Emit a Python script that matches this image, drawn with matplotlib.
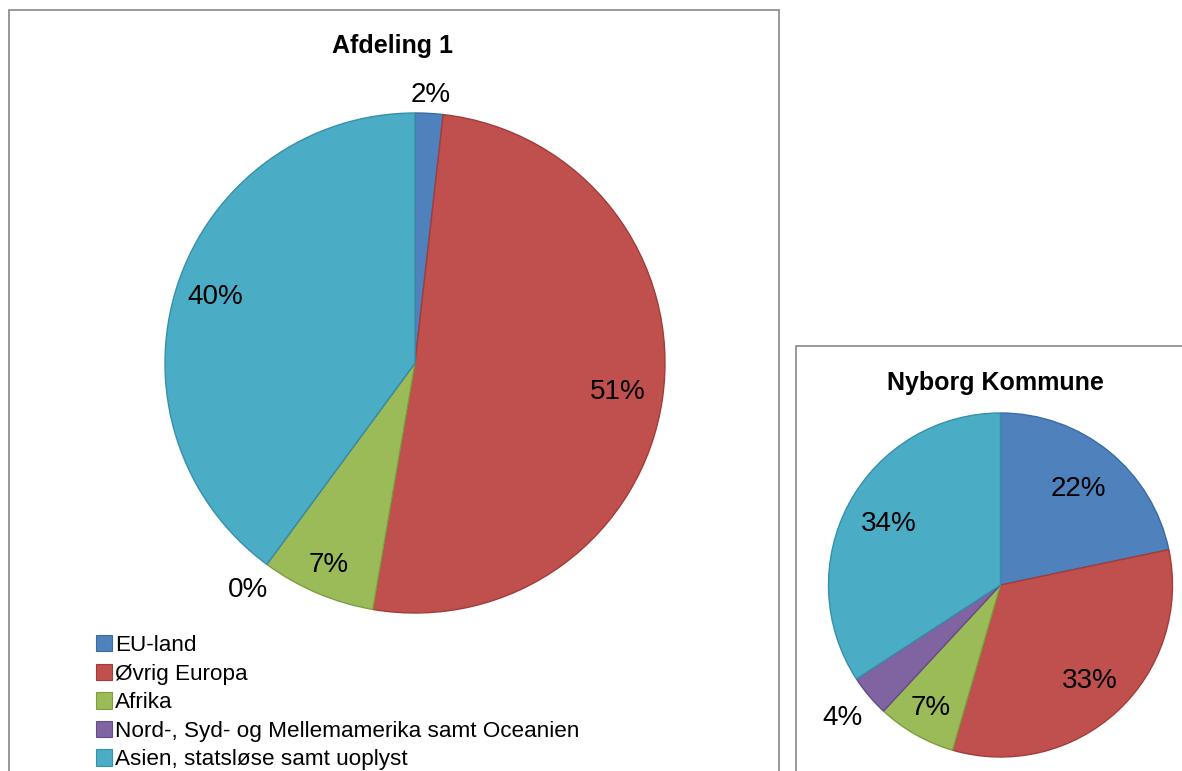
import numpy as np
import matplotlib.pyplot as plt
from matplotlib.patches import Rectangle, Patch

plt.rcParams['font.family'] = ['Liberation Sans', 'DejaVu Sans']

categories = ['EU-land', 'Øvrig Europa', 'Afrika',
              'Nord-, Syd- og Mellemamerika samt Oceanien',
              'Asien, statsløse samt uoplyst']
afdeling = [1.8, 50.9, 7.4, 0.0, 39.9]
nyborg = [21.7, 32.8, 7.4, 3.9, 34.2]

colors = ['#4F81BD', '#C0504D', '#9BBB59', '#8064A2', '#4BACC6']
edges = ['#3A6BA5', '#A23C39', '#7E9C41', '#654B87', '#3590AA']

W, H = 1182, 771
fig = plt.figure(figsize=(W / 100, H / 100), dpi=100)

# chart frames (both run off the bottom/right of the image)
fig.patches.append(Rectangle((9.5 / W, -0.1), (779 - 9.5) / W, 0.1 + (H - 10) / H,
                             transform=fig.transFigure, fill=False,
                             edgecolor='#888888', lw=1.2))
fig.patches.append(Rectangle((796 / W, -0.1), 0.5, 0.1 + (H - 346) / H,
                             transform=fig.transFigure, fill=False,
                             edgecolor='#888888', lw=1.2))


def draw_pie(ax, vals, rads):
    wedges, _ = ax.pie(vals, colors=colors, startangle=90, counterclock=False,
                       wedgeprops=dict(linewidth=1.0))
    for w, e in zip(wedges, edges):
        w.set_edgecolor(e)
    for w, v, r in zip(wedges, vals, rads):
        a = np.deg2rad((w.theta1 + w.theta2) / 2)
        ax.text(r * np.cos(a), r * np.sin(a), f'{v:.0f}%', fontsize=20,
                ha='center', va='center')
    ax.set_xlim(-1, 1)
    ax.set_ylim(-1, 1)


# Afdeling 1
cx, cy, r = 415, 363, 250
ax1 = fig.add_axes([(cx - r) / W, (H - cy - r) / H, 2 * r / W, 2 * r / H])
draw_pie(ax1, afdeling, [1.075, 0.82, 0.88, 1.13, 0.84])
fig.text(393 / W, (H - 46) / H, 'Afdeling 1', fontsize=18, fontweight='bold',
         ha='center', va='center')

# Nyborg Kommune
cx, cy, r = 1000.5, 585, 172
ax2 = fig.add_axes([(cx - r) / W, (H - cy - r) / H, 2 * r / W, 2 * r / H])
draw_pie(ax2, nyborg, [0.72, 0.76, 0.82, 1.2, 0.74])
fig.text(995 / W, (H - 383) / H, 'Nyborg Kommune', fontsize=18, fontweight='bold',
         ha='center', va='center')

handles = [Patch(facecolor=c, edgecolor=e, lw=0.8) for c, e in zip(colors, edges)]
fig.legend(handles, categories, loc='upper left', bbox_to_anchor=(96 / W, (H - 635) / H),
           frameon=False, fontsize=16.2, handlelength=0.7, handleheight=0.75,
           handletextpad=0.15, labelspacing=0.33, borderpad=0, borderaxespad=0)

fig.savefig('out.png', dpi=100)
